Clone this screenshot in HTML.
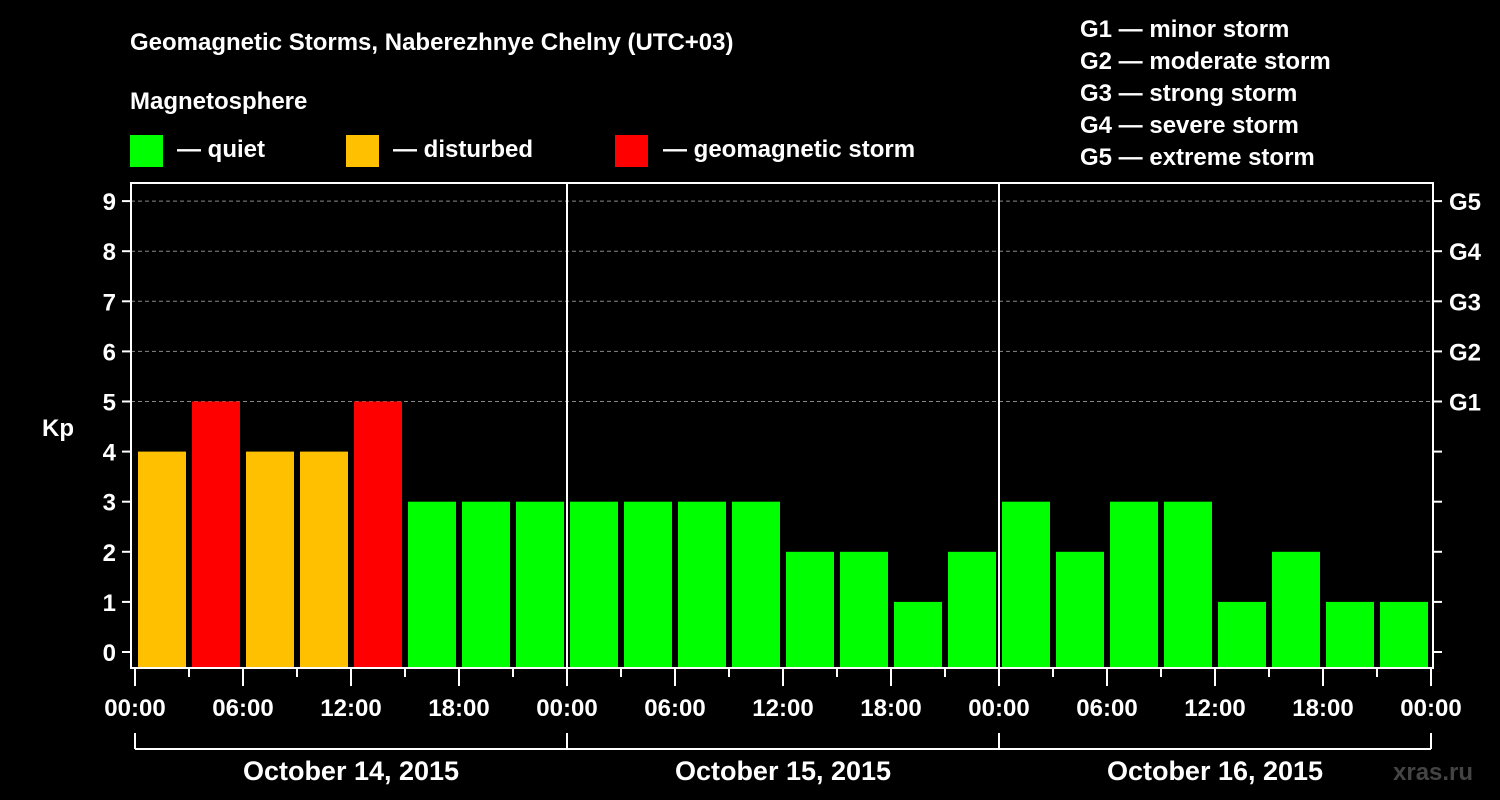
<!DOCTYPE html>
<html><head><meta charset="utf-8"><style>
html,body{margin:0;padding:0;background:#000;width:1500px;height:800px;overflow:hidden}
svg{display:block;font-family:"Liberation Sans",Arial,sans-serif;font-weight:bold}
</style></head><body>
<svg id="chart" width="1500" height="800">
<text x="130" y="50" fill="#fff" font-size="24">Geomagnetic Storms, Naberezhnye Chelny (UTC+03)</text>
<text x="130" y="109" fill="#fff" font-size="24">Magnetosphere</text>
<g>
<rect x="130" y="135" width="33" height="32" fill="#00ff00"/>
<text x="177" y="157" fill="#fff" font-size="24">— quiet</text>
<rect x="346" y="135" width="33" height="32" fill="#ffc000"/>
<text x="393" y="157" fill="#fff" font-size="24">— disturbed</text>
<rect x="615" y="135" width="33" height="32" fill="#ff0000"/>
<text x="663" y="157" fill="#fff" font-size="24">— geomagnetic storm</text>
</g>
<g fill="#fff" font-size="24">
<text x="1080" y="37">G1 — minor storm</text>
<text x="1080" y="69">G2 — moderate storm</text>
<text x="1080" y="101">G3 — strong storm</text>
<text x="1080" y="133">G4 — severe storm</text>
<text x="1080" y="165">G5 — extreme storm</text>
</g>
<text x="42" y="436" fill="#fff" font-size="24">Kp</text>
<text x="1393" y="780" fill="#444" font-size="24">xras.ru</text>
<g id="grid"></g><g id="bars"></g><g id="axes"></g>
</svg>
<script>
const kpValues=[4,5,4,4,5,3,3,3, 3,3,3,3,2,2,1,2, 3,2,3,3,1,2,1,1];
const dayLabels=["October 14, 2015","October 15, 2015","October 16, 2015"];
const hourLabels=["00:00","06:00","12:00","18:00"];
const gLabels=["G1","G2","G3","G4","G5"];
const NS="http://www.w3.org/2000/svg";
const X0=135,DAY=432,L=131,R=1433,T=183,B=668;
const y=v=>652-v*50.1;
const x=h=>X0+h*DAY/24;
function mk(t,a,p){const e=document.createElementNS(NS,t);for(const k in a)e.setAttribute(k,a[k]);p.appendChild(e);return e;}
const grid=document.getElementById('grid'),bars=document.getElementById('bars'),axes=document.getElementById('axes');
for(let k=5;k<=9;k++){const l=mk('line',{x1:L,x2:R,y1:y(k),y2:y(k),stroke:'#888','stroke-dasharray':'4,3','stroke-width':1},grid);

}
kpValues.forEach((v,i)=>{const c=v>=5?'#ff0000':(v>=4?'#ffc000':'#00ff00');
const r=mk('rect',{x:x(i*3)+3,y:y(v),width:48,height:B-y(v),fill:c},bars);

});
const f=mk('rect',{x:L,y:T,width:R-L,height:B-T,fill:'none',stroke:'#fff','stroke-width':2},axes);


for(let d=1;d<dayLabels.length;d++){const l=mk('line',{x1:x(d*24),x2:x(d*24),y1:T,y2:B,stroke:'#fff','stroke-width':2},axes);

}
for(let k=0;k<=9;k++){mk('line',{x1:122,x2:L,y1:y(k),y2:y(k),stroke:'#fff','stroke-width':2},axes);
mk('line',{x1:R,x2:1442,y1:y(k),y2:y(k),stroke:'#fff','stroke-width':2},axes);
const t=mk('text',{x:116,y:y(k)+9,fill:'#fff','font-size':24,'text-anchor':'end'},axes);t.textContent=k;

}
gLabels.forEach((g,i)=>{const t=mk('text',{x:1449,y:y(5+i)+9,fill:'#fff','font-size':24},axes);t.textContent=g;

});
const nh=dayLabels.length*24;
for(let h=0;h<=nh;h+=3){const maj=h%6===0;
mk('line',{x1:x(h),x2:x(h),y1:B,y2:maj?686:677,stroke:'#fff','stroke-width':2},axes);
if(maj){const t=mk('text',{x:x(h),y:716,fill:'#fff','font-size':24,'text-anchor':'middle'},axes);t.textContent=hourLabels[(h%24)/6];

}}
mk('line',{x1:x(0),x2:x(nh),y1:749,y2:749,stroke:'#fff','stroke-width':2},axes);
dayLabels.forEach((d,i)=>{mk('line',{x1:x(i*24),x2:x(i*24),y1:733,y2:749,stroke:'#fff','stroke-width':2},axes);
const t=mk('text',{x:x(i*24+12),y:780,fill:'#fff','font-size':27,'text-anchor':'middle'},axes);t.textContent=d;

});
mk('line',{x1:x(nh),x2:x(nh),y1:733,y2:749,stroke:'#fff','stroke-width':2},axes);
</script>
</body></html>
